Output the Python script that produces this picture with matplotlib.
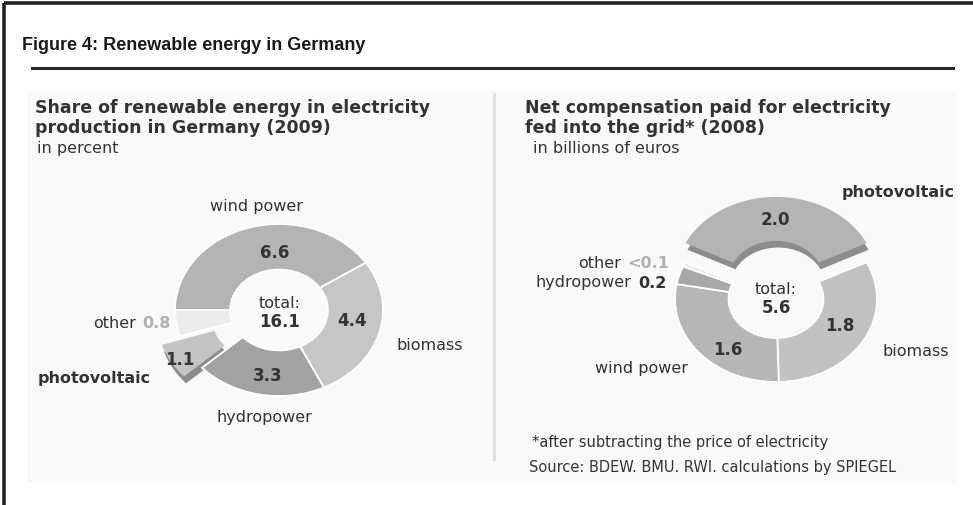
import matplotlib
matplotlib.use("Agg")
import matplotlib.pyplot as plt
from matplotlib.patches import Rectangle

# left chart: share of renewable energy 2009 (percent), clockwise from wind power
left_names = ["wind power", "biomass", "hydropower", "photovoltaic", "other"]
left_vals = [6.6, 4.4, 3.3, 1.1, 0.8]
left_total = "16.1"
left_colors = ["#b4b4b4", "#c6c6c6", "#a2a2a2", "#c4c4c4", "#ececec"]
left_explode = [0, 0, 0, 0.2, 0]

# right chart: net compensation 2008 (billion euros), clockwise from photovoltaic
right_names = ["photovoltaic", "biomass", "wind power", "hydropower", "other"]
right_vals = [2.0, 1.8, 1.6, 0.2, 0.05]   # other is "<0.1"
right_total = "5.6"
right_colors = ["#b4b4b4", "#c2c2c2", "#b6b6b6", "#a8a8a8", "#ececec"]
right_explode = [0.23, 0, 0, 0, 0]

W, H = 973, 506
fig = plt.figure(figsize=(W / 100, H / 100), dpi=100)
fig.patch.set_facecolor("white")

## background: frame, title rule, panel, divider ##
bg = fig.add_axes([0, 0, 1, 1], zorder=0)
bg.set_xlim(0, W); bg.set_ylim(H, 0); bg.axis("off")
bg.plot([4, 4], [4, H], color="#222222", lw=2.6, solid_capstyle="butt")
bg.plot([4, W], [4, 4], color="#222222", lw=2.6, solid_capstyle="butt")
bg.plot([32, 953], [69, 69], color="#2a2a2a", lw=2.2)
bg.add_patch(Rectangle((27, 92), 929, 391, fc="#f9f9f9", ec="none"))
bg.plot([494, 494], [95, 460], color="#dedede", lw=2)


def donut(cx, cy, rx, ry, vals, colors, explode, start, shadow_shift):
    m = 1.45
    ax = fig.add_axes([(cx - m * rx) / W, 1 - (cy + m * ry) / H,
                       2 * m * rx / W, 2 * m * ry / H], zorder=1)
    ax.patch.set_visible(False)
    # darker copy under the exploded slice -> thickness / shadow
    sh_cols = ["none" if e == 0 else "#8c8c8c" for e in explode]
    ax.pie(vals, colors=sh_cols, explode=explode, startangle=start,
           counterclock=False, center=shadow_shift,
           wedgeprops=dict(width=0.53, edgecolor="none"))
    wedges, _ = ax.pie(vals, colors=colors, explode=explode, startangle=start,
                       counterclock=False,
                       wedgeprops=dict(width=0.53, edgecolor="white", linewidth=1.3))
    for w, e in zip(wedges, explode):
        if e:
            w.set_edgecolor("none")
    ax.set_xlim(-m, m); ax.set_ylim(-m, m)
    ax.set_aspect("auto")
    ax.axis("off")
    return ax


donut(279, 311, 104, 86, left_vals, left_colors, left_explode, 180, (0.02, -0.08))
r_start = 90 + 180 * right_vals[0] / sum(right_vals)
donut(776, 300, 101, 83, right_vals, right_colors, right_explode, r_start, (0.02, -0.08))

## texts on top ##
tx = fig.add_axes([0, 0, 1, 1], zorder=5)
tx.set_xlim(0, W); tx.set_ylim(H, 0); tx.axis("off")
tx.patch.set_visible(False)

DK = "#333333"
LG = "#b0b0b0"
SF = "DejaVu Sans"


def put(x, y, s, size=11.5, bold=False, color=DK, ha="center", family=SF):
    tx.text(x, y, s, ha=ha, va="center", fontsize=size, color=color,
            fontweight="bold" if bold else "normal", family=family)


put(22, 45, "Figure 4: Renewable energy in Germany", size=13, bold=True,
    ha="left", family="Liberation Sans", color="#1a1a1a")

# left header
put(35, 108, "Share of renewable energy in electricity", size=12.5, bold=True, ha="left")
put(35, 128, "production in Germany (2009)", size=12.5, bold=True, ha="left")
put(37, 148, "in percent", size=11.5, ha="left")

# left labels
put(256, 207, left_names[0])
put(275, 253, f"{left_vals[0]:.1f}", bold=True, size=12)
put(280, 303, "total:")
put(280, 322, left_total, bold=True, size=12)
put(352, 321, f"{left_vals[1]:.1f}", bold=True, size=12)
put(430, 345, left_names[1])
put(268, 376, f"{left_vals[2]:.1f}", bold=True, size=12)
put(264, 418, left_names[2])
put(180, 360, f"{left_vals[3]:.1f}", bold=True, size=12)
put(38, 378, left_names[3], bold=True, ha="left")
put(136, 323, left_names[4], ha="right")
put(142, 323, f"{left_vals[4]:.1f}", ha="left", color=LG, bold=True)

# right header
put(525, 108, "Net compensation paid for electricity", size=12.5, bold=True, ha="left")
put(525, 128, "fed into the grid* (2008)", size=12.5, bold=True, ha="left")
put(533, 148, "in billions of euros", size=11.5, ha="left")

# right labels
put(955, 192, right_names[0], bold=True, ha="right")
put(775, 220, f"{right_vals[0]:.1f}", bold=True, size=12)
put(776, 289, "total:")
put(776, 308, right_total, bold=True, size=12)
put(840, 326, f"{right_vals[1]:.1f}", bold=True, size=12)
put(949, 352, right_names[1], ha="right")
put(728, 350, f"{right_vals[2]:.1f}", bold=True, size=12)
put(688, 369, right_names[2], ha="right")
put(631, 283, right_names[3], ha="right")
put(638, 283, f"{right_vals[3]:.1f}", bold=True, ha="left")
put(621, 263, right_names[4], ha="right")
put(627, 263, "<0.1", bold=True, ha="left", color=LG)

put(532, 443, "*after subtracting the price of electricity", size=10.5, ha="left")
put(529, 468, "Source: BDEW. BMU. RWI. calculations by SPIEGEL", size=10.5, ha="left")

fig.savefig("out.png", dpi=100)
